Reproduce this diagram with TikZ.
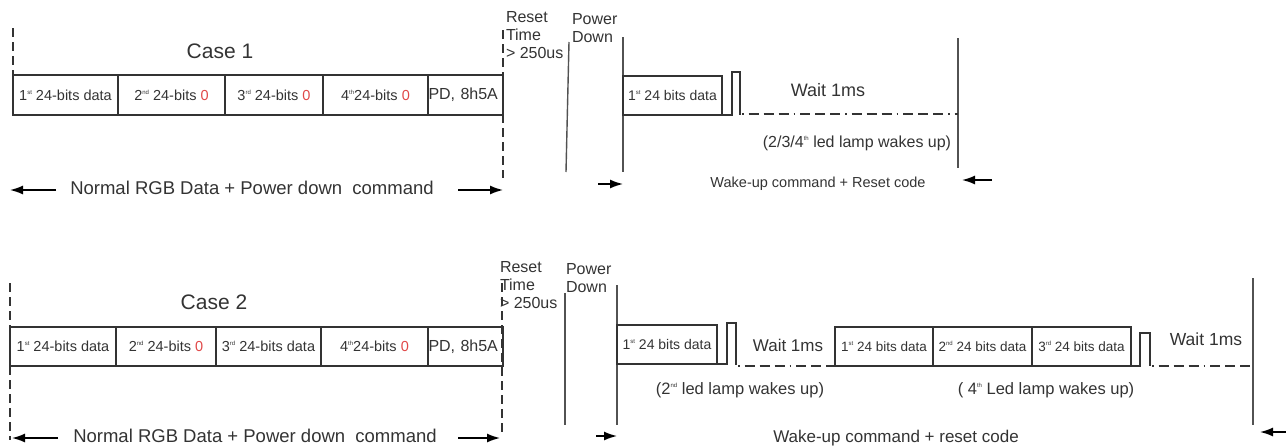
\documentclass[tikz,border=0pt]{standalone}
\usepackage{fontspec}
\setmainfont{Liberation Sans}
\usetikzlibrary{arrows.meta}
\definecolor{ink}{HTML}{333333}
\definecolor{zred}{HTML}{E04848}
\newcommand{\fs}[1]{\fontsize{#1}{#1}\selectfont}
\newcommand{\su}[1]{\raisebox{0.75ex}{\fontsize{6}{6}\selectfont #1}}
\begin{document}
\begin{tikzpicture}[x=1pt,y=-1pt,
  cell/.style={draw=ink, line width=1.1pt, inner sep=0pt, outer sep=0pt, anchor=north west, font=\fs{14.5}, text=ink},
  lbl/.style={text=ink, inner sep=0pt, outer sep=0pt},
  vline/.style={draw=ink!85, line width=1.4pt},
  pulse/.style={draw=ink, line width=1.1pt},
  dline/.style={draw=ink, line width=1.2pt, dash pattern=on 9pt off 5pt},
  dotline/.style={draw=ink, line width=1.2pt, dash pattern=on 1.5pt off 5pt on 10pt off 5pt on 10pt off 5pt on 10pt off 5pt},
  arr/.style={-{Latex[length=13pt,width=9pt]}, line width=1.5pt, draw=black}
]
\useasboundingbox (0,0) rectangle (1286,445);

%% ---------------- Case 1 ----------------
\node[lbl, font=\fs{21}] (case1) at (220,51) {Case 1};
\node[cell, minimum width=105, minimum height=40] (a1) at (13,75) {1\su{st} 24-bits data};
\node[cell, minimum width=107, minimum height=40] (b1) at (118,75) {2\su{nd} 24-bits \textcolor{zred}{0}};
\node[cell, minimum width=98, minimum height=40] (c1) at (225,75) {3\su{rd} 24-bits \textcolor{zred}{0}};
\node[cell, minimum width=105, minimum height=40] (d1) at (323,75) {4\su{th}24-bits \textcolor{zred}{0}};
\node[cell, minimum width=75, minimum height=40, align=left, text width=74, font=\fs{16}] (e1) at (428,75) {PD, 8h5A};

\coordinate (l1t) at (13,28);
\draw[dline] (l1t) -- (a1.north west);
\coordinate (r1t) at (503,30);
\coordinate (r1b) at (503,178);
\draw[dline] (r1t) -- (r1b);

\node[lbl, font=\fontsize{16}{18}\selectfont, align=left, anchor=north west] (reset1) at (506,11) {Reset\\Time\\> 250us};
\node[lbl, font=\fontsize{16}{18}\selectfont, align=left, anchor=north west] (pd1) at (572,13) {Power\\Down};

\coordinate (p1t) at (569,42); \coordinate (p1b) at (566,172);
\draw[vline] (p1t) -- (p1b);
\coordinate (q1t) at (623,37); \coordinate (q1b) at (623,172);
\draw[vline] (q1t) -- (q1b);

\node[cell, minimum width=99, minimum height=39, font=\fs{14}] (w1) at (623,76) {1\su{st} 24 bits data};
\coordinate (pu1) at (740,115);
\draw[pulse] (w1.south east) -- (732,115) -- (732,72) -- (740,72) -- (pu1);
\coordinate (e1t) at (958,38); \coordinate (e1b) at (958,168);
\draw[vline] (e1t) -- (e1b);
\coordinate (dd1) at (958,114);
\draw[dotline] (742,114) -- (dd1);
\node[lbl, font=\fs{18}] (wait1) at (828,90) {Wait 1ms};
\node[lbl, font=\fs{16}] (wake1) at (857,143) {(2/3/4\su{th} led lamp wakes up)};

\coordinate (al1) at (56,190); \coordinate (al1e) at (10,190);
\draw[arr] (al1) -- (al1e);
\node[lbl, font=\fs{18.5}] (nrm1) at (252,188) {Normal RGB Data + Power down\ \ command};
\coordinate (ar1) at (458,190);
\draw[arr] (ar1) -- (r1b |- ar1);
\coordinate (aw1) at (598,184);
\draw[arr] (aw1) -- (q1b |- aw1);
\node[lbl, font=\fs{14.5}] (wu1) at (818,184) {Wake-up command + Reset code};
\coordinate (ab1) at (992,180);
\draw[arr] (ab1) -- (962,180);

%% ---------------- Case 2 ----------------
\node[lbl, font=\fs{21}] (case2) at (214,302) {Case 2};
\node[cell, minimum width=106, minimum height=39] (a2) at (10,327) {1\su{st} 24-bits data};
\node[cell, minimum width=100, minimum height=39] (b2) at (116,327) {2\su{nd} 24-bits \textcolor{zred}{0}};
\node[cell, minimum width=105, minimum height=39] (c2) at (216,327) {3\su{rd} 24-bits data};
\node[cell, minimum width=107, minimum height=39] (d2) at (321,327) {4\su{th}24-bits \textcolor{zred}{0}};
\node[cell, minimum width=75, minimum height=39, align=left, text width=74, font=\fs{16}] (e2) at (428,327) {PD, 8h5A};

\coordinate (l2t) at (10,283); \coordinate (l2b) at (10,440);
\draw[dline] (l2t) -- (a2.north west);
\draw[dline] (a2.south west) -- (l2b);
\coordinate (r2t) at (502,283); \coordinate (r2b) at (502,432);
\draw[dline] (r2t) -- (r2b);

\node[lbl, font=\fontsize{16}{18}\selectfont, align=left, anchor=north west] (reset2) at (500,261) {Reset\\Time\\> 250us};
\node[lbl, font=\fontsize{16}{18}\selectfont, align=left, anchor=north west] (pd2) at (566,263) {Power\\Down};

\coordinate (p2t) at (565,293); \coordinate (p2b) at (565,425);
\draw[vline] (p2t) -- (p2b);
\coordinate (q2t) at (617,285); \coordinate (q2b) at (617,425);
\draw[vline] (q2t) -- (q2b);

\node[cell, minimum width=100, minimum height=39, font=\fs{14}] (w2a) at (617,325) {1\su{st} 24 bits data};
\coordinate (pu2) at (736,365);
\draw[pulse] (w2a.south east) -- (727,364) -- (727,323) -- (736,323) -- (pu2);
\node[cell, minimum width=98, minimum height=39, font=\fs{13.5}] (w2b) at (835,327) {1\su{st} 24 bits data};
\draw[dotline] (738,366) -- (w2b.south west);
\node[cell, minimum width=99, minimum height=39, font=\fs{13.5}] (w2c) at (933,327) {2\su{nd} 24 bits data};
\node[cell, minimum width=99, minimum height=39, font=\fs{13.5}] (w2d) at (1032,327) {3\su{rd} 24 bits data};
\coordinate (pu3) at (1150,366);
\draw[pulse] (w2d.south east) -- (1140,366) -- (1140,333) -- (1150,333) -- (pu3);
\coordinate (e2t) at (1253,278); \coordinate (e2b) at (1253,425);
\draw[vline] (e2t) -- (e2b);
\draw[dotline] (1152,366) -- (1250,366);

\node[lbl, font=\fs{17}] (wait2) at (788,345) {Wait 1ms};
\node[lbl, font=\fs{17.5}] (wait3) at (1206,339) {Wait 1ms};
\node[lbl, font=\fs{16.5}] (wake2) at (740,390) {(2\su{nd} led lamp wakes up)};
\node[lbl, font=\fs{16.5}] (wake3) at (1046,390) {( 4\su{th} Led lamp wakes up)};

\coordinate (al2) at (58,438); \coordinate (al2e) at (12,438);
\draw[arr] (al2) -- (al2e);
\node[lbl, font=\fs{18.5}] (nrm2) at (255,436) {Normal RGB Data + Power down\ \ command};
\coordinate (ar2) at (458,438);
\draw[arr] (ar2) -- (500,438);
\coordinate (aw2) at (596,436);
\draw[arr] (aw2) -- (q2b |- aw2);
\node[lbl, font=\fs{17}] (wu2) at (896,438) {Wake-up command + reset code};
\coordinate (ab2) at (1286,432);
\draw[arr] (ab2) -- (1260,432);
\end{tikzpicture}
\end{document}
